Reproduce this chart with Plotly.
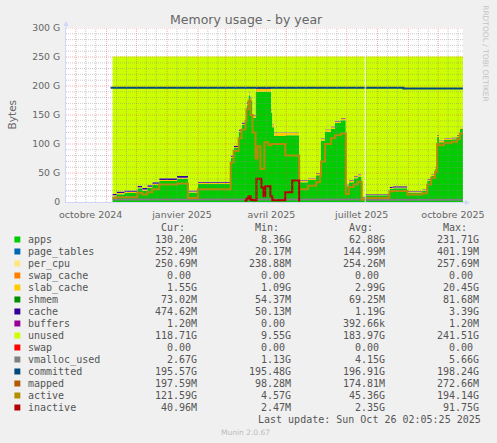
import plotly.graph_objects as go
import pandas as pd

# --- canvas / plot box (pixels) ---
W, H = 497, 443
ML, MR, MT, MB = 66, 31, 28, 241
PW, PH = W - ML - MR, H - MT - MB

X_START, X_END = "2024-09-21 02:05", "2025-10-26 02:05"

SANS = "DejaVu Sans"
MONO = "DejaVu Sans Mono"
FONT_COL = "#666666"
LEG_COL = "#555555"
AXIS_COL = "#CFD6F8"

# --- data, segment before the gap (G bytes) ---
dates_a = ["2024-11-07", "2024-11-11", "2024-11-19", "2024-12-02", "2024-12-07", "2024-12-12",
           "2024-12-17", "2024-12-24", "2025-01-11", "2025-01-22", "2025-02-01", "2025-03-06",
           "2025-03-09", "2025-03-14", "2025-03-17", "2025-03-21", "2025-03-22", "2025-03-24",
           "2025-03-26", "2025-03-28", "2025-03-31", "2025-04-01", "2025-04-02", "2025-04-05",
           "2025-04-06", "2025-04-08", "2025-04-09", "2025-04-10", "2025-04-13", "2025-04-15",
           "2025-04-16", "2025-04-17", "2025-04-19", "2025-04-30", "2025-05-07", "2025-05-14",
           "2025-05-23", "2025-05-31", "2025-06-04", "2025-06-05", "2025-06-09", "2025-06-15",
           "2025-06-19", "2025-06-25", "2025-06-30", "2025-07-03", "2025-07-08", "2025-07-12",
           "2025-07-16", "2025-07-19"]
apps_a = [9.5, 13.5, 15.5, 23.5, 19.5, 24.5, 29.5, 36, 40, 16.5, 31, 76,
          93, 121, 133, 149, 167, 184, 175, 145, 190, 190, 190, 190,
          190, 190, 190, 190, 190, 190, 154, 129, 114, 115, 115, 34,
          38, 46, 53, 106, 121, 126, 136, 141, 27, 34, 41, 44, 5, 5]
slab_a = [2, 2, 2, 2, 2, 2, 2, 2, 2, 1.5, 2, 2,
          2, 2, 2, 3, 3, 4, 4, 4, 5, 5, 5, 5,
          5, 5, 5, 5, 5, 5, 5, 5, 5, 4, 4, 3,
          3, 3, 3, 3, 3, 3, 3, 3, 2, 3, 3, 3, 2, 2]
cache_a = [2.5, 2.5, 2.5, 2.5, 2.5, 2.5, 2.5, 3, 3, 2, 2, 2,
           2, 2, 2, 2, 2, 1, 1, 1, 1, 1, 1, 1,
           1, 1, 1, 1, 1, 1, 1, 1, 1, 1, 1, 1,
           1, 1, 1, 1, 1, 1, 1, 1, 1, 1, 1, 1, 1, 1]
unused_a = [237, 233, 231, 223, 227, 222, 217, 210, 206, 231, 216, 171,
            154, 126, 114, 97, 79, 62, 71, 101, 55, 55, 55, 55,
            55, 55, 55, 55, 55, 55, 91, 116, 131, 131, 131, 213,
            209, 201, 194, 141, 126, 121, 111, 106, 221, 213, 206, 203, 243, 243]
active_a = [7, 8, 8, 16, 13, 17, 22, 30, 32, 7, 22, 68,
            88, 110, 125, 140, 160, 175, 150, 120, 75, 75, 96, 57,
            57, 57, 103, 103, 98, 98, 100, 100, 100, 80, 80, 22,
            28, 34, 45, 70, 100, 110, 115, 118, 14, 26, 30, 35, 4, 4]

# --- data, segment after the gap ---
dates_b = ["2025-07-20", "2025-08-13", "2025-08-16", "2025-08-27", "2025-08-31", "2025-09-15",
           "2025-09-20", "2025-09-24", "2025-09-28", "2025-09-30", "2025-10-02", "2025-10-07",
           "2025-10-15", "2025-10-20", "2025-10-23", "2025-10-26"]
apps_b = [11.5, 22.5, 23.5, 23.5, 16.5, 19.5, 37, 45, 57, 112, 103, 107, 108, 112, 126, 130.2]
slab_b = [1.5, 1.5, 1.5, 1.5, 1.5, 1.5, 2, 2, 2, 2, 2, 2, 2, 2, 1.5, 1.55]
cache_b = [1, 2, 2, 2, 1, 1, 1, 1, 1, 1, 1, 1, 1, 1, 0.5, 0.47]
unused_b = [237, 225, 224, 224, 232, 229, 211, 203, 191, 136, 145, 141, 140, 136, 123, 118.7]
active_b = [7, 18, 19, 19, 13, 15, 30, 42, 52, 100, 98, 102, 104, 108, 118, 121.6]

# sparse lines (inactive only where it rises off the floor)
inactive_x = ["2025-03-20", "2025-03-21", "2025-03-22", "2025-03-24", "2025-03-26", "2025-03-28",
              "2025-04-01", "2025-04-06", "2025-04-08", "2025-04-10", "2025-04-15", "2025-04-17",
              "2025-04-30", "2025-05-07", "2025-05-14"]
inactive = [1, 3, 6, 10, 4, 3, 40, 25, 10, 27, 10, 3, 17, 37, 1]
committed_x_a = ["2024-11-05", "2025-07-19"]
committed_a = [197, 197]
committed_x_b = ["2025-07-20", "2025-08-27", "2025-10-26"]
committed_b = [197, 195.6, 195.6]
vmalloc_x_a = ["2024-11-07", "2025-07-19"]
vmalloc_a = [4.5, 4.5]
vmalloc_x_b = ["2025-07-20", "2025-10-26"]
vmalloc_b = [4, 4]

# --- legend table ---
names = ["apps", "page_tables", "per_cpu", "swap_cache", "slab_cache", "shmem", "cache", "buffers",
         "unused", "swap", "vmalloc_used", "committed", "mapped", "active", "inactive"]
colors = ["#00CC00", "#0066B3", "#FFE680", "#FF8000", "#FFCC00", "#008F00", "#330099", "#990099",
          "#CCFF00", "#FF0000", "#808080", "#00487D", "#B35A00", "#B38F00", "#B30000"]
cur = ["130.20G", "252.49M", "250.69M", "0.00", "1.55G", "73.02M", "474.62M", "1.20M",
       "118.71G", "0.00", "2.67G", "195.57G", "197.59M", "121.59G", "40.96M"]
mins = ["8.36G", "20.17M", "238.88M", "0.00", "1.09G", "54.37M", "50.13M", "0.00",
        "9.55G", "0.00", "1.13G", "195.48G", "98.28M", "4.57G", "2.47M"]
avgs = ["62.88G", "144.99M", "254.26M", "0.00", "2.99G", "69.25M", "1.19G", "392.66k",
        "183.97G", "0.00", "4.15G", "196.91G", "174.81M", "45.36G", "2.35G"]
maxs = ["231.71G", "401.19M", "257.69M", "0.00", "20.45G", "81.68M", "3.39G", "1.20M",
        "241.51G", "0.00", "5.66G", "198.24G", "272.66M", "194.14G", "91.75G"]
C = dict(zip(names, colors))

y_ticks = [0, 50, 100, 150, 200, 250, 300]
y_labels = ["0", "50 G", "100 G", "150 G", "200 G", "250 G", "300 G"]
x_ticks = ["2024-10-16", "2025-01-16", "2025-04-16", "2025-07-16", "2025-10-16"]
x_labels = ["octobre 2024", "janvier 2025", "avril 2025", "juillet 2025", "octobre 2025"]


def fx(x):
    return (x - ML) / PW


def fy(y):
    return (H - MB - y) / PH


fig = go.Figure()


def stack(x, y, name, group):
    fig.add_trace(go.Scatter(
        x=x, y=y, mode="lines", stackgroup=group, fillcolor=C[name],
        line=dict(width=0, shape="hv", color=C[name]),
        showlegend=False, hoverinfo="skip"))


def line(x, y, name):
    fig.add_trace(go.Scatter(
        x=x, y=y, mode="lines", line=dict(width=2, shape="hv", color=C[name]),
        showlegend=False, hoverinfo="skip"))


for g, (d, ap, sl, ca, un) in {"a": (dates_a, apps_a, slab_a, cache_a, unused_a),
                               "b": (dates_b, apps_b, slab_b, cache_b, unused_b)}.items():
    stack(d, ap, "apps", g)
    stack(d, sl, "slab_cache", g)
    stack(d, ca, "cache", g)
    stack(d, un, "unused", g)

line(vmalloc_x_a, vmalloc_a, "vmalloc_used")
line(vmalloc_x_b, vmalloc_b, "vmalloc_used")
line(committed_x_a, committed_a, "committed")
line(committed_x_b, committed_b, "committed")
line(dates_a, active_a, "active")
line(dates_b, active_b, "active")
line(inactive_x, inactive, "inactive")

# --- grid drawn over the graph (rrdtool style) ---
MINOR = "rgba(140,140,140,0.45)"
MAJOR = "rgba(222,79,79,0.45)"
shapes = []


def hgrid(v, col):
    shapes.append(dict(type="line", xref="paper", yref="y", x0=0, x1=1, y0=v, y1=v,
                       line=dict(color=col, width=1, dash="1px,1px"), layer="above"))


def vgrid(t, col):
    shapes.append(dict(type="line", xref="x", yref="paper", x0=t, x1=t, y0=0, y1=1,
                       line=dict(color=col, width=1, dash="1px,1px"), layer="above"))


for v in range(10, 301, 10):
    hgrid(v, MAJOR if v % 50 == 0 else MINOR)
t0, t1 = pd.Timestamp(X_START), pd.Timestamp(X_END)
for m in pd.date_range("2024-09-01", "2025-10-01", freq="MS"):
    for d in (11, 21):
        t = m + pd.Timedelta(days=d - 1)
        if t0 < t < t1:
            vgrid(t, MINOR)
    if t0 < m < t1:
        vgrid(m, MAJOR)

# legend swatches
ROW0, STEP = 239.5, 12
for i, c in enumerate(colors):
    yc = ROW0 + STEP * i
    shapes.append(dict(type="rect", xref="paper", yref="paper", x0=fx(14), x1=fx(20),
                       y0=fy(yc + 3), y1=fy(yc - 3), fillcolor=c, line=dict(width=0)))

ann = []


def txt(x, y, s, size, color=LEG_COL, anchor="left", family=MONO, angle=0):
    ann.append(dict(x=fx(x), y=fy(y), xref="paper", yref="paper", text=s, showarrow=False,
                    xanchor=anchor, yanchor="middle", textangle=angle, borderpad=0,
                    font=dict(family=family, size=size, color=color)))


txt(248, 19.5, "Memory usage - by year", 12.5, color=FONT_COL, anchor="center", family=SANS)
txt(12, 115, "Bytes", 10.5, color=FONT_COL, anchor="center", family=SANS, angle=-90)
txt(489, 54, "RRDTOOL / TOBI OETIKER", 7.5, color="#C4C4C4", anchor="center", family=SANS, angle=90)

for hdr, xr in zip(["Cur:", "Min:", "Avg:", "Max:"], [187, 282, 376, 471]):
    txt(xr, 227.5, hdr, 10, anchor="right")
cols = [(cur, 199), (mins, 294), (avgs, 388.5), (maxs, 483.5)]
for i, n in enumerate(names):
    yc = ROW0 + STEP * i
    txt(26.5, yc, n, 10)
    for vals, xr in cols:
        v = vals[i]
        txt(xr - (0 if v[-1].isalpha() else 6), yc, v, 10, anchor="right")
txt(485, 419.5, "Last update: Sun Oct 26 02:05:25 2025", 10, anchor="right")
txt(247, 432, "Munin 2.0.67", 7.5, color="#BBBBBB", anchor="center", family=SANS)

# axis arrows
ann.append(dict(x=fx(473), y=fy(202.5), xref="paper", yref="paper", text="", showarrow=True,
                ax=-9, ay=0, arrowhead=2, arrowsize=1, arrowwidth=1, arrowcolor=AXIS_COL))
ann.append(dict(x=fx(66), y=fy(21), xref="paper", yref="paper", text="", showarrow=True,
                ax=0, ay=9, arrowhead=2, arrowsize=1, arrowwidth=1, arrowcolor=AXIS_COL))

fig.update_layout(
    width=W, height=H,
    margin=dict(l=ML, r=MR, t=MT, b=MB, pad=0),
    paper_bgcolor="#F0F0F0", plot_bgcolor="#FFFFFF",
    shapes=shapes, annotations=ann,
    showlegend=False,
    xaxis=dict(type="date", range=[X_START, X_END], tickvals=x_ticks, ticktext=x_labels,
               showgrid=False, zeroline=False, showline=True, linecolor=AXIS_COL, linewidth=1,
               ticks="", ticklabelstandoff=4,
               tickfont=dict(family=SANS, size=9.5, color=FONT_COL), fixedrange=True),
    yaxis=dict(range=[0, 300], tickvals=y_ticks, ticktext=y_labels,
               showgrid=False, zeroline=False, showline=True, linecolor=AXIS_COL, linewidth=1,
               ticks="", ticklabelstandoff=3,
               tickfont=dict(family=SANS, size=9.3, color=FONT_COL), fixedrange=True),
)

fig.write_html("out.html", config={"displayModeBar": False},
               post_script="document.body.style.margin='0px';")
